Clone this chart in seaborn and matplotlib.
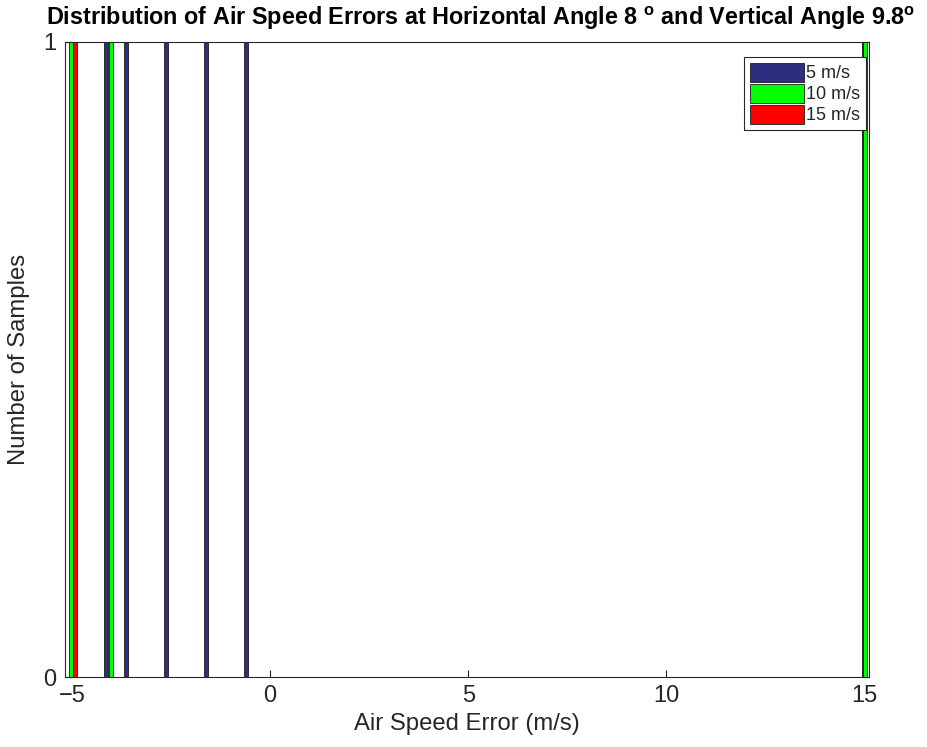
import matplotlib
matplotlib.use('Agg')
import matplotlib.pyplot as plt
import seaborn as sns

# bin centres (m/s) and counts, one list per wind speed
err_5 = [-4.15, -3.64, -2.63, -1.62, -0.61, 15.0]
cnt_5 = [1, 1, 1, 1, 1, 1]
err_10 = [-5.02, -4.02, 15.01]
cnt_10 = [1, 1, 1]
err_15 = [-4.93]
cnt_15 = [1]

labels = ['5 m/s', '10 m/s', '15 m/s']
colors = ['#2e2e80', '#00ff00', '#ff0000']
bar_width = 0.1

sns.set_theme(style='white')
plt.rcParams['font.family'] = ['Liberation Sans', 'DejaVu Sans']
plt.rcParams['mathtext.fontset'] = 'custom'
plt.rcParams['mathtext.rm'] = 'Liberation Sans'
plt.rcParams['mathtext.bf'] = 'Liberation Sans:bold'
plt.rcParams['xtick.direction'] = 'in'
plt.rcParams['ytick.direction'] = 'in'

fig = plt.figure(figsize=(9.27, 7.47), dpi=100)
ax = fig.add_axes([0.0701, 0.0937, 0.8678, 0.8501])

for xs, ys, lab, col in zip([err_5, err_10, err_15], [cnt_5, cnt_10, cnt_15], labels, colors):
    ax.bar(xs, ys, width=bar_width, color=col, edgecolor='#1a1a1a', linewidth=0.6, label=lab)

ax.set_xlim(-5.18, 15.13)
ax.set_ylim(0, 1)
ax.set_xticks([-5, 0, 5, 10, 15])
ax.set_yticks([0, 1])
ax.tick_params(axis='both', labelsize=17, length=5, width=0.8, color='#262626', labelcolor='#262626',
               top=False, right=False, bottom=True, left=True, pad=6)
for s in ax.spines.values():
    s.set_color('#262626')
    s.set_linewidth(0.8)

ax.set_xlabel('Air Speed Error (m/s)', fontsize=17.2, color='#262626', labelpad=4)
ax.set_ylabel('Number of Samples', fontsize=17.2, color='#262626', labelpad=10)
ax.set_title(r'Distribution of Air Speed Errors at Horizontal Angle 8 $^{\mathbf{o}}$ and Vertical Angle 9.8$^{\mathbf{o}}$',
             fontsize=16.8, fontweight='bold', color='black', pad=12, x=0.517)

leg = ax.legend(loc='upper right', bbox_to_anchor=(0.9957, 0.976), borderaxespad=0,
                fontsize=13, frameon=True, fancybox=False, framealpha=1,
                edgecolor='#262626', handlelength=3.0, handleheight=1.25, handletextpad=0.15,
                borderpad=0.3, labelspacing=0.08)
leg.get_frame().set_linewidth(0.8)

fig.savefig('out.png', dpi=100)
